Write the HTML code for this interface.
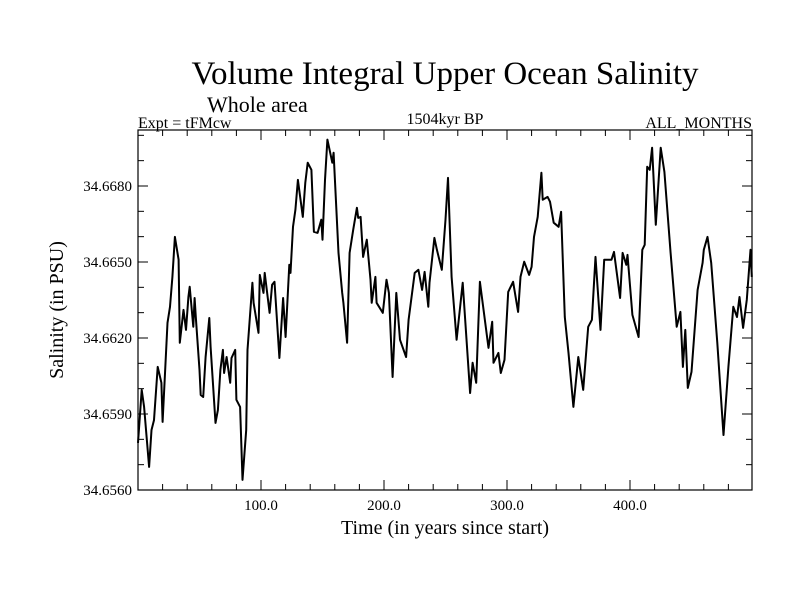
<!DOCTYPE html>
<html><head><meta charset="utf-8"><style>
body{margin:0;background:#fff;}
svg text{font-family:"Liberation Serif",serif;fill:#000;}
</style></head><body>
<svg id="chart" width="800" height="600" viewBox="0 0 800 600">
<text x="445" y="84" font-size="33" text-anchor="middle">Volume Integral Upper Ocean Salinity</text>
<text x="207" y="112" font-size="22">Whole area</text>
<text x="138" y="128" font-size="16">Expt = tFMcw</text>
<text x="445" y="124" font-size="16" text-anchor="middle">1504kyr BP</text>
<text x="752" y="128" font-size="16" text-anchor="end">ALL_MONTHS</text>
<text x="445" y="534" font-size="20" text-anchor="middle">Time (in years since start)</text>
<text transform="translate(63,310) rotate(-90)" font-size="20" text-anchor="middle">Salinity (in PSU)</text>
<g id="axes"></g>
<path id="series" fill="none" stroke="#000" stroke-width="2" stroke-linejoin="round"></path>
<rect x="138" y="130" width="614" height="360" fill="none" stroke="#000" stroke-width="1.2"></rect>
</svg>
<script>
const years=[0,3,5,9,11,13,16,19,20,24,26,28,30,33,34,37,39,41,42,45,46,47,50,51,53,55,58,59,63,65,67,69,70,72,75,76,79,80,83,85,88,89,93,94,98,99,102,103,107,109,111,115,118,120,123,124,126,128,130,134,136,138,141,143,146,149,150,152,154,158,159,163,166,167,170,172,175,178,179,181,183,186,189,190,193,194,199,202,204,207,210,213,218,220,225,228,231,233,236,237,241,243,247,250,252,255,259,264,270,272,275,278,285,288,289,293,295,298,301,305,309,311,314,318,320,322,325,328,329,333,335,338,342,344,347,350,354,358,362,366,369,372,376,379,385,387,392,394,397,398,402,407,410,412,414,416,418,421,425,428,433,438,441,443,445,447,450,455,459,460,463,466,471,476,480,484,487,489,492,495,498,499];
const salinity=[34.65786,34.65995,34.65928,34.65691,34.65837,34.65876,34.66086,34.66023,34.65869,34.66260,34.66323,34.66441,34.66599,34.66509,34.66181,34.66311,34.66232,34.66362,34.66402,34.66244,34.66358,34.66283,34.66074,34.65975,34.65967,34.66125,34.66279,34.66165,34.65865,34.65916,34.66074,34.66153,34.66062,34.66125,34.66023,34.66121,34.66153,34.65956,34.65928,34.65640,34.65837,34.66153,34.66418,34.66339,34.66220,34.66449,34.66378,34.66457,34.66299,34.66410,34.66422,34.66121,34.66358,34.66204,34.66489,34.66457,34.66639,34.66706,34.66824,34.66678,34.66813,34.66892,34.66864,34.66619,34.66615,34.66667,34.66588,34.66824,34.66983,34.66892,34.66931,34.66536,34.66378,34.66339,34.66181,34.66536,34.66627,34.66714,34.66674,34.66678,34.66520,34.66588,34.66430,34.66339,34.66441,34.66339,34.66299,34.66430,34.66378,34.66046,34.66378,34.66193,34.66125,34.66272,34.66457,34.66469,34.66390,34.66461,34.66323,34.66418,34.66595,34.66548,34.66469,34.66667,34.66832,34.66441,34.66193,34.66418,34.65983,34.66102,34.66023,34.66422,34.66161,34.66264,34.66102,34.66141,34.66062,34.66114,34.66382,34.66422,34.66303,34.66441,34.66501,34.66449,34.66481,34.66599,34.66678,34.66852,34.66746,34.66757,34.66738,34.66655,34.66639,34.66698,34.66283,34.66141,34.65928,34.66125,34.65995,34.66244,34.66272,34.66520,34.66232,34.66509,34.66509,34.66540,34.66358,34.66536,34.66489,34.66528,34.66291,34.66204,34.66548,34.66568,34.66876,34.66864,34.66951,34.66647,34.66951,34.66856,34.66536,34.66244,34.66303,34.66086,34.66232,34.66003,34.66066,34.66390,34.66497,34.66548,34.66599,34.66497,34.66181,34.65817,34.66086,34.66323,34.66283,34.66362,34.66240,34.66351,34.66548,34.66441];
const yTickLabels=["34.6560","34.6590","34.6620","34.6650","34.6680"];
const xTickLabels=["100.0","200.0","300.0","400.0"];
const X0=138,X1=752,Y0=490,Y1=130;
const xMin=0,xMax=499.2,yMin=34.656,yMax=34.67021;
function sx(v){return X0+(v-xMin)/(xMax-xMin)*(X1-X0);}
function sy(v){return Y0-(v-yMin)/(yMax-yMin)*(Y0-Y1);}
const NS="http://www.w3.org/2000/svg";
const axes=document.getElementById('axes');
function line(x1,y1,x2,y2,name){const l=document.createElementNS(NS,'line');l.setAttribute('x1',x1);l.setAttribute('y1',y1);l.setAttribute('x2',x2);l.setAttribute('y2',y2);l.setAttribute('stroke','#000');l.setAttribute('stroke-width','1');


axes.appendChild(l);}
function txt(x,y,s,anchor,name){const t=document.createElementNS(NS,'text');t.setAttribute('x',x);t.setAttribute('y',y);t.setAttribute('font-size','15');t.setAttribute('text-anchor',anchor);t.textContent=s;


axes.appendChild(t);}
for(let i=0;i<=14;i++){const v=yMin+i*0.001;if(v>yMax)break;const y=sy(v);const major=i%3===0;const L=major?10:6;
line(X0,y,X0+L,y,'y-tick');line(X1,y,X1-L,y,'y-tick');}
yTickLabels.forEach(s=>{txt(X0-6,sy(parseFloat(s))+5,s,'end','y-tick-label');});
for(let v=20;v<xMax;v+=20){const x=sx(v);const major=v%100===0;const L=major?10:6;
line(x,Y0,x,Y0-L,'x-tick');line(x,Y1,x,Y1+L,'x-tick');}
xTickLabels.forEach(s=>{txt(sx(parseFloat(s)),510,s,'middle','x-tick-label');});
let d='';years.forEach((yr,i)=>{d+=(i?'L':'M')+sx(yr).toFixed(1)+' '+sy(salinity[i]).toFixed(1);});
document.getElementById('series').setAttribute('d',d);
</script>
</body></html>
